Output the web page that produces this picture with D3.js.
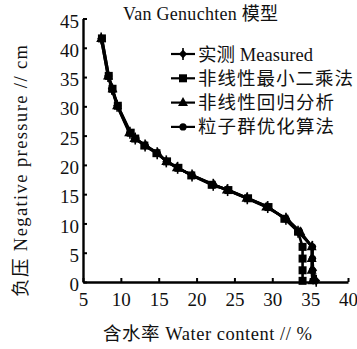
<!DOCTYPE html>
<html><head><meta charset="utf-8">
<script src="https://cdn.jsdelivr.net/npm/d3@7"></script>
<style>
html,body{margin:0;padding:0;background:#fff;}
svg{display:block;}
text{fill:#111;}
</style></head>
<body>
<svg id="chart" width="357" height="349"></svg>
<script>
// ---- data ----
const titleText = "Van Genuchten 模型";
const xLabel = "含水率 Water content // %";
const yLabel = "负压 Negative pressure // cm";
const xTicks = [5, 10, 15, 20, 25, 30, 35, 40];
const yTicks = [0, 5, 10, 15, 20, 25, 30, 35, 40, 45];
const seriesNames = ["实测 Measured", "非线性最小二乘法", "非线性回归分析", "粒子群优化算法"];
const seriesMarkers = ["diamond", "square", "triangle", "circle"];
// pressure head levels (cm)
const pressure = [41.6, 35.2, 33.0, 30.1, 25.5, 24.5, 23.3, 22.0, 20.6, 19.5, 18.2, 16.6, 15.7, 14.3, 12.8, 10.8, 8.6, 6.0, 4.0, 2.0, 0.2];
// water content (%) per series
const measuredTheta = [7.4, 8.3, 8.8, 9.5, 11.2, 11.9, 13.2, 14.8, 16.0, 17.5, 19.4, 22.2, 24.1, 26.7, 29.4, 31.8, 33.4, 35.3, 35.3, 35.4, 35.8];
const leastSquaresTheta = [7.5, 8.4, 8.9, 9.6, 11.3, 11.9, 13.1, 14.7, 16.1, 17.6, 19.3, 22.0, 24.2, 26.8, 29.5, 31.6, 33.4, 34.0, 34.0, 34.0, 34.0];
const regressionTheta = [7.4, 8.3, 8.9, 9.5, 11.1, 11.8, 13.3, 14.9, 16.0, 17.4, 19.5, 22.3, 24.0, 26.6, 29.2, 31.9, 33.7, 35.2, 35.2, 35.2, 35.3];
const psoTheta = [7.5, 8.4, 8.8, 9.6, 11.2, 12.0, 13.2, 14.8, 16.1, 17.5, 19.4, 22.2, 24.1, 26.7, 29.4, 31.8, 33.6, 35.3, 35.3, 35.3, 35.4];

const seriesTheta = [measuredTheta, leastSquaresTheta, regressionTheta, psoTheta];

// ---- drawing ----
const svg = d3.select("#chart");
const x = d3.scaleLinear().domain([5, 40]).range([83, 348]);
const y = d3.scaleLinear().domain([0, 45]).range([282, 18.5]);
const latin = "'Liberation Serif','Noto Sans CJK SC',serif";

function marker(g, type, cx, cy) {
  if (type === "diamond") {
    g.append("path").attr("d", `M${cx},${cy-4.5}L${cx+4},${cy}L${cx},${cy+4.5}L${cx-4},${cy}Z`).attr("fill", "#000");
    g.append("line").attr("x1", cx).attr("x2", cx).attr("y1", cy-6).attr("y2", cy+6).attr("stroke", "#000").attr("stroke-width", 1.6);
  } else if (type === "square") {
    g.append("rect").attr("x", cx-4).attr("y", cy-4).attr("width", 8).attr("height", 8).attr("fill", "#000");
  } else if (type === "triangle") {
    g.append("path").attr("d", `M${cx},${cy-5.5}L${cx+5},${cy+3.5}L${cx-5},${cy+3.5}Z`).attr("fill", "#000");
  } else {
    g.append("circle").attr("cx", cx).attr("cy", cy).attr("r", 3.6).attr("fill", "#000");
  }
}

// axes
const xAxis = d3.axisBottom(x).tickValues(xTicks).tickSize(-4).tickSizeOuter(0).tickPadding(11).tickFormat(d3.format("d"));
const yAxis = d3.axisLeft(y).tickValues(yTicks).tickSize(-4).tickSizeOuter(0).tickPadding(4).tickFormat(d3.format("d"));

const gx = svg.append("g").attr("transform", "translate(0,282)").call(xAxis);
const gy = svg.append("g").attr("transform", "translate(83,0)").call(yAxis);
[gx, gy].forEach(g => {
  g.select(".domain").attr("stroke", "#000").attr("stroke-width", 2.4);
  g.selectAll(".tick line").attr("stroke", "#000").attr("stroke-width", 2);
  g.selectAll(".tick text").attr("font-family", latin).attr("font-size", 19).attr("fill", "#111");
});
gy.selectAll(".tick text").attr("dy", "0.45em");

// series
const line = d3.line().x(d => x(d[0])).y(d => y(d[1]));
seriesTheta.forEach((th, i) => {
  const pts = th.map((t, k) => [t, pressure[k]]);
  const g = svg.append("g");
  g.append("path").datum(pts).attr("d", line).attr("fill", "none").attr("stroke", "#000").attr("stroke-width", 2.6).attr("stroke-linejoin", "round");
  pts.forEach(p => marker(g, seriesMarkers[i], x(p[0]), y(p[1])));
});

// legend
seriesNames.forEach((name, i) => {
  const cy = 54 + i * 24.3;
  const g = svg.append("g");
  g.append("line").attr("x1", 171).attr("x2", 195).attr("y1", cy).attr("y2", cy).attr("stroke", "#000").attr("stroke-width", 2.2);
  marker(g, seriesMarkers[i], 183, cy);
  g.append("text").attr("x", 198).attr("y", cy + 6.5).attr("font-family", latin).attr("font-size", 18.5)
    .attr("textLength", i === 0 ? 115 : (i === 1 ? 155 : 136)).attr("lengthAdjust", "spacing").text(name);
});

// title
svg.append("text").attr("x", 123).attr("y", 20).attr("font-family", latin).attr("font-size", 18)
  .attr("textLength", 155).attr("lengthAdjust", "spacing").text(titleText);

// axis titles
svg.append("text").attr("x", 103).attr("y", 340).attr("font-family", latin).attr("font-size", 18.5)
  .attr("textLength", 209).attr("lengthAdjust", "spacing").text(xLabel);
svg.append("text").attr("transform", "translate(27,297) rotate(-90)").attr("x", 0).attr("y", 0)
  .attr("font-family", latin).attr("font-size", 18.5)
  .attr("textLength", 252).attr("lengthAdjust", "spacing").text(yLabel);
</script>
</body></html>
